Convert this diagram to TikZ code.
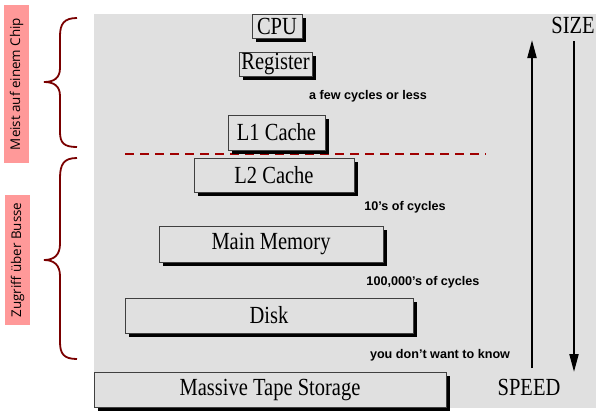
\documentclass[tikz,border=0pt]{standalone}
\usepackage{fontspec}
\usepackage{graphicx}
\setmainfont{Liberation Serif}
\newfontfamily\lblfont{Liberation Sans}
\newfontfamily\sidefont{Open Sans}
\usetikzlibrary{shadows,arrows.meta}
\definecolor{bggray}{HTML}{E0E0E0}
\definecolor{pinkbg}{HTML}{FF9999}
\definecolor{bracered}{HTML}{7A0000}
\definecolor{dashred}{HTML}{A00000}
\newcommand{\tallt}[1]{\scalebox{1}[1.2]{#1}}
\tikzset{
  membox/.style={draw=black!75, line width=0.8pt, fill=bggray, inner sep=0pt,
    font=\fontsize{20.5}{22}\selectfont,
    drop shadow={shadow xshift=3.5pt, shadow yshift=-3.5pt, fill=black, opacity=1}},
  cyclbl/.style={font=\lblfont\bfseries\fontsize{12.6}{14}\selectfont, inner sep=0pt},
  axislbl/.style={font=\fontsize{20.5}{22}\selectfont, inner sep=0pt},
  sidelbl/.style={fill=pinkbg, inner sep=0pt, font=\sidefont\fontsize{13.4}{15}\selectfont},
  bracepath/.style={draw=bracered, line width=1.8pt},
  bigarrow/.style={line width=2pt, -{Triangle[length=18pt,width=9pt]}},
}
\begin{document}
\begin{tikzpicture}[x=1pt,y=-1pt]
\useasboundingbox (0,0) rectangle (599,415);
\fill[white] (0,0) rectangle (599,415);
\fill[bggray] (94,14) rectangle (596,408);

% side labels
\node[sidelbl, minimum width=158pt, minimum height=25pt, rotate=90] (chip) at (16.5,84) {Meist auf einem Chip};
\node[sidelbl, minimum width=130pt, minimum height=25pt, rotate=90] (bus) at (17.5,260) {Zugriff über Busse};

% braces
\draw[bracepath] (77,18) .. controls (64,18) and (60,24) .. (60,36) -- (60,68)
  .. controls (60,78) and (54,82) .. (44,82)
  .. controls (54,82) and (60,86) .. (60,96) -- (60,132)
  .. controls (60,143) and (64,147) .. (77,147);
\draw[bracepath] (77,158) .. controls (64,158) and (60,164) .. (60,178) -- (60,244)
  .. controls (60,255) and (54,260) .. (44,260)
  .. controls (54,260) and (60,265) .. (60,276) -- (60,342)
  .. controls (60,354) and (64,359) .. (77,359);

% dashed line
\coordinate (dl) at (125,154);
\coordinate (dr) at (486,154);
\draw[dashred, line width=1.2pt, dash pattern=on 9pt off 6pt] (dl) -- (dr);

% boxes
\node[membox, minimum width=50pt, minimum height=24pt] (cpu) at (277,26) {\tallt{CPU}};
\node[membox, minimum width=73pt, minimum height=24pt] (reg) at (275.5,64) {\tallt{Register}};
\node[membox, minimum width=97pt, minimum height=35pt] (l1) at (276.5,132.5) {\tallt{L1 Cache}};
\node[membox, minimum width=160pt, minimum height=34pt] (l2) at (274,175) {\tallt{L2 Cache}};
\node[membox, minimum width=224pt, minimum height=36pt] (mm) at (271,244) {\tallt{Main Memory}};
\node[membox, minimum width=288pt, minimum height=35pt] (disk) at (269,315.5) {\tallt{Disk}};
\node[membox, minimum width=352pt, minimum height=35pt] (tape) at (270,390) {\tallt{Massive Tape Storage}};

% cycle labels
\node[cyclbl] (c1) at (368,96) {a few cycles or less};
\node[cyclbl] (c2) at (405,207) {10’s of cycles};
\node[cyclbl] (c3) at (423,282) {100,000’s of cycles};
\node[cyclbl] (c4) at (440,355) {you don’t want to know};

% axes
\node[axislbl] (size) at (573,25) {\tallt{SIZE}};
\node[axislbl] (speed) at (529,387) {\tallt{SPEED}};
\coordinate (upS) at (532,368);
\coordinate (upE) at (532,40);
\coordinate (dnS) at (574,41);
\coordinate (dnE) at (574,372);
\draw[bigarrow] (upS) -- (upE);
\draw[bigarrow] (dnS) -- (dnE);
\end{tikzpicture}
\end{document}
